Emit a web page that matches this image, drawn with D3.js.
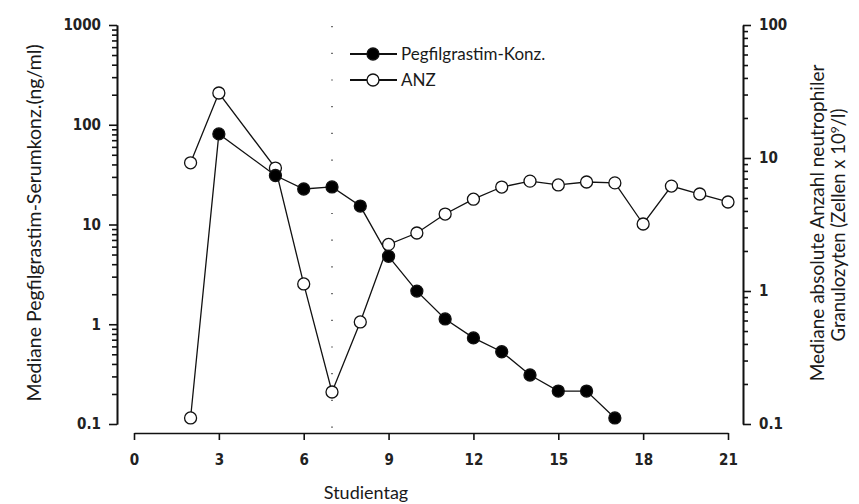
<!DOCTYPE html>
<html>
<head>
<meta charset="utf-8">
<script src="https://cdn.jsdelivr.net/npm/d3@7"></script>
<style>
  body { margin: 0; background: #fff; }
  svg { display: block; }
  .tick text { font-family: "Liberation Sans Narrow", "DejaVu Sans Condensed", sans-serif; font-weight: bold; font-size: 15px; fill: #222; }
  .label { font-family: Lato, "Open Sans", sans-serif; fill: #1a1a1a; }
</style>
</head>
<body>
<svg id="chart" width="859" height="504"></svg>
<script>
// Studientag / values
var pegDays = [2, 3, 5, 6, 7, 8, 9, 10, 11, 12, 13, 14, 15, 16, 17];
var pegValues = [0.115, 81, 31, 22.7, 23.8, 15.3, 4.8, 2.15, 1.13, 0.73, 0.53, 0.31, 0.214, 0.214, 0.115];
var pegOpenDays = [2];

var anzDays = [2, 3, 5, 6, 7, 8, 9, 10, 11, 12, 13, 14, 15, 16, 17, 18, 19, 20, 21];
var anzValues = [9.2, 30.8, 8.4, 1.13, 0.174, 0.585, 2.24, 2.73, 3.79, 4.9, 6.05, 6.7, 6.27, 6.6, 6.5, 3.19, 6.15, 5.36, 4.67];

var xTicks = [0, 3, 6, 9, 12, 15, 18, 21];
var leftTicks = [0.1, 1, 10, 100, 1000];
var rightTicks = [0.1, 1, 10, 100];
var markerDay = 7;

var svg = d3.select('#chart');

var x = d3.scaleLinear().domain([0, 21]).range([134, 728]);
var yL = d3.scaleLog().domain([0.1, 1000]).range([424, 25]);
var yR = d3.scaleLog().domain([0.1, 100]).range([424, 25]);

function minors(domain) {
	var out = [];
	for (var d = domain[0]; d < domain[1] * 0.999; d *= 10) {
		for (var k = 2; k <= 9; k++) out.push(d * k);
	}
	return out;
}

var fmt = function(d) { return d < 1 ? '0.1' : d3.format('d')(d); };

// left axis
svg.append('g').attr('transform', 'translate(117,0)')
	.call(d3.axisLeft(yL).tickValues(minors(yL.domain())).tickSize(5).tickSizeOuter(0).tickFormat(''));
svg.append('g').attr('class', 'axis').attr('transform', 'translate(117,0)')
	.call(d3.axisLeft(yL).tickValues(leftTicks).tickSize(8).tickSizeOuter(0).tickFormat(fmt).tickPadding(8));

// right axis
svg.append('g').attr('transform', 'translate(743,0)')
	.call(d3.axisRight(yR).tickValues(minors(yR.domain())).tickSize(5).tickSizeOuter(0).tickFormat(''));
svg.append('g').attr('class', 'axis').attr('transform', 'translate(743,0)')
	.call(d3.axisRight(yR).tickValues(rightTicks).tickSize(8).tickSizeOuter(0).tickFormat(fmt).tickPadding(8));

// bottom axis
svg.append('g').attr('class', 'axis').attr('transform', 'translate(0,433)')
	.call(d3.axisBottom(x).tickValues(xTicks).tickSize(7).tickSizeOuter(0).tickPadding(14));

svg.selectAll('.domain, .tick line').attr('stroke', '#111').attr('stroke-width', 1.6);

// dotted vertical line
svg.append('line')
	.attr('x1', x(markerDay)).attr('x2', x(markerDay))
	.attr('y1', 26).attr('y2', 432)
	.attr('stroke', '#444').attr('stroke-width', 1.5)
	.attr('stroke-dasharray', '1.2 25.5');

var peg = pegDays.map(function(d, i) { return {day: d, v: pegValues[i]}; });
var anz = anzDays.map(function(d, i) { return {day: d, v: anzValues[i]}; });

var linePeg = d3.line().x(function(d) { return x(d.day); }).y(function(d) { return yL(d.v); });
var lineAnz = d3.line().x(function(d) { return x(d.day); }).y(function(d) { return yR(d.v); });

svg.append('path').datum(anz).attr('d', lineAnz)
	.attr('fill', 'none').attr('stroke', '#111').attr('stroke-width', 1.3);
svg.append('path').datum(peg).attr('d', linePeg)
	.attr('fill', 'none').attr('stroke', '#111').attr('stroke-width', 1.3);

svg.selectAll('.anz').data(anz).enter().append('circle')
	.attr('cx', function(d) { return x(d.day); })
	.attr('cy', function(d) { return yR(d.v); })
	.attr('r', 6)
	.attr('fill', '#fff').attr('stroke', '#111').attr('stroke-width', 1.3);

svg.selectAll('.peg').data(peg).enter().append('circle')
	.attr('cx', function(d) { return x(d.day); })
	.attr('cy', function(d) { return yL(d.v); })
	.attr('r', 6)
	.attr('fill', function(d) { return pegOpenDays.indexOf(d.day) >= 0 ? '#fff' : '#000'; })
	.attr('stroke', '#111').attr('stroke-width', 1.3);

// legend
var legend = [{name: 'Pegfilgrastim-Konz.', fill: '#000', y: 54}, {name: 'ANZ', fill: '#fff', y: 80}];
legend.forEach(function(l) {
	svg.append('line').attr('x1', 350).attr('x2', 397).attr('y1', l.y).attr('y2', l.y)
		.attr('stroke', '#111').attr('stroke-width', 1.8);
	svg.append('circle').attr('cx', 373).attr('cy', l.y).attr('r', 6)
		.attr('fill', l.fill).attr('stroke', '#111').attr('stroke-width', 1.3);
	svg.append('text').attr('class', 'label').attr('x', 401).attr('y', l.y + 6)
		.style('font-size', '17px').text(l.name);
});

// axis titles
svg.append('text').attr('class', 'label')
	.attr('transform', 'translate(41,223) rotate(-90)')
	.attr('text-anchor', 'middle').style('font-size', '19.5px')
	.text('Mediane Pegfilgrastim-Serumkonz.(ng/ml)');

svg.append('text').attr('class', 'label')
	.attr('transform', 'translate(824,223) rotate(-90)')
	.attr('text-anchor', 'middle').style('font-size', '19px')
	.text('Mediane absolute Anzahl neutrophiler');
var t2 = svg.append('text').attr('class', 'label')
	.attr('transform', 'translate(845,225) rotate(-90)')
	.attr('text-anchor', 'middle').style('font-size', '18.5px');
t2.append('tspan').text('Granulozyten (Zellen x 10');
t2.append('tspan').attr('dy', -6).style('font-size', '12px').text('9');
t2.append('tspan').attr('dy', 6).text('/l)');

svg.append('text').attr('class', 'label')
	.attr('x', 366).attr('y', 499)
	.attr('text-anchor', 'middle').style('font-size', '18px')
	.text('Studientag');
</script>
</body>
</html>
